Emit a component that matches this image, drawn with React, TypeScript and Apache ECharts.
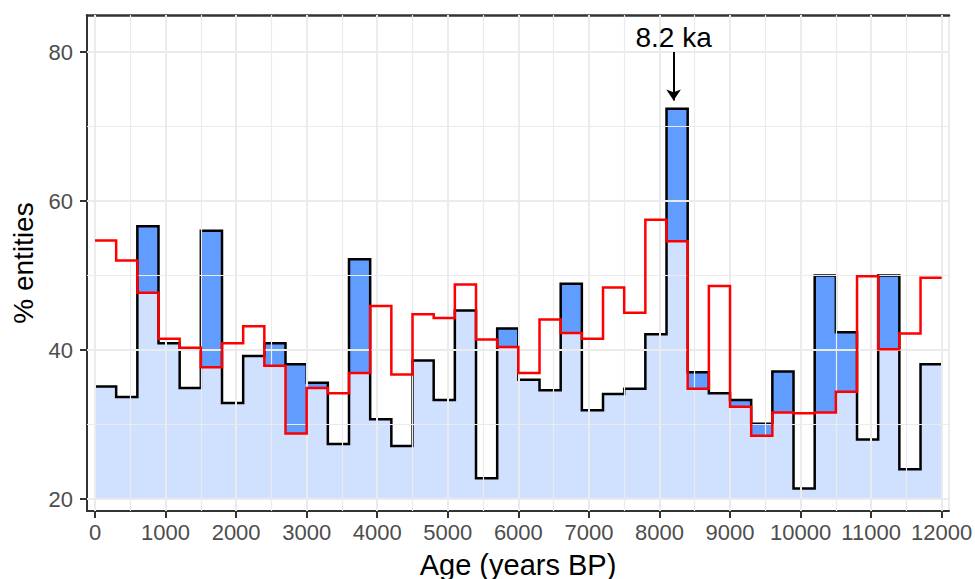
import React, { useEffect, useRef } from "react";
import * as echarts from "echarts";

// ---- data ----
const binWidth = 300;
const binStart = [
  0, 300, 600, 900, 1200, 1500, 1800, 2100, 2400, 2700,
  3000, 3300, 3600, 3900, 4200, 4500, 4800, 5100, 5400, 5700,
  6000, 6300, 6600, 6900, 7200, 7500, 7800, 8100, 8400, 8700,
  9000, 9300, 9600, 9900, 10200, 10500, 10800, 11100, 11400, 11700,
];
const blackPct = [
  35.1, 33.7, 56.6, 40.9, 34.9, 56.0, 32.9, 39.2, 40.9, 38.1,
  35.6, 27.4, 52.2, 30.7, 27.1, 38.6, 33.3, 45.3, 22.8, 42.9,
  36.0, 34.6, 48.9, 31.9, 34.1, 34.8, 42.1, 72.4, 37.0, 34.2,
  33.3, 30.1, 37.1, 21.4, 50.0, 42.4, 28.0, 50.0, 24.0, 38.1,
];
const redPct = [
  54.7, 52.0, 47.7, 41.5, 40.3, 37.7, 40.9, 43.2, 37.9, 28.8,
  34.9, 34.2, 36.9, 45.9, 36.7, 44.8, 44.3, 48.8, 41.4, 40.4,
  36.9, 44.1, 42.3, 41.5, 48.4, 45.0, 57.5, 54.6, 34.8, 48.6,
  32.4, 28.5, 31.6, 31.5, 31.6, 34.4, 49.9, 40.1, 42.2, 49.7,
];
const xTickValues = [0, 1000, 2000, 3000, 4000, 5000, 6000, 7000, 8000, 9000, 10000, 11000, 12000];
const xMinorGrid = [500, 1500, 2500, 3500, 4500, 5500, 6500, 7500, 8500, 9500, 10500, 11500];
const yTickValues = [20, 40, 60, 80];
const yMinorGrid = [30, 50, 70];
const fillBase = 20;
const eventX = 8200;
const eventLabel = "8.2 ka";
const eventFrom = 80;
const eventTo = 73.5;

const xMin = -113.4;
const xMax = 12103.5;
const yMin = 18.39;
const yMax = 84.97;

const FONT = "'Liberation Sans', Arial, Helvetica, sans-serif";

function stepData(values: number[]) {
  const d = binStart.map((x, i) => [x, values[i]]);
  const last = binStart.length - 1;
  d.push([binStart[last] + binWidth, values[last]]);
  return d;
}

export default function App() {
  const ref = useRef<HTMLDivElement>(null);
  useEffect(() => {
    document.body.style.margin = "0";
    if (!ref.current) return;
    const chart = echarts.init(ref.current, undefined, { renderer: "svg" });

    const darkBins = binStart
      .map((x, i) => [x, x + binWidth, redPct[i], blackPct[i]])
      .filter((d) => d[3] > d[2]);

    const gridLineData: any[] = [
      ...xTickValues.map((v) => ({ xAxis: v, lineStyle: { width: 2 } })),
      ...xMinorGrid.map((v) => ({ xAxis: v, lineStyle: { width: 1.2 } })),
      ...yTickValues.map((v) => ({ yAxis: v, lineStyle: { width: 2 } })),
      ...yMinorGrid.map((v) => ({ yAxis: v, lineStyle: { width: 1.2 } })),
    ];

    const option: any = {
      animation: false,
      backgroundColor: "#ffffff",
      textStyle: { fontFamily: FONT },
      grid: {
        left: 87,
        top: 15,
        right: 26,
        bottom: 68,
        containLabel: false,
        outerBoundsMode: "none",
      },
      xAxis: [
        {
          type: "value",
          min: xMin,
          max: xMax,
          position: "bottom",
          axisLine: { show: true, onZero: false, lineStyle: { color: "#333333", width: 2 } },
          axisTick: {
            show: true,
            customValues: xTickValues,
            length: 7,
            lineStyle: { color: "#333333", width: 2 },
          },
          axisLabel: {
            show: true,
            customValues: xTickValues,
            formatter: (v: number) => String(v),
            margin: 10,
            fontSize: 22,
            color: "#4d4d4d",
            fontFamily: FONT,
          },
          splitLine: { show: false },
          name: "Age (years BP)",
          nameLocation: "middle",
          nameGap: 39,
          nameTextStyle: { fontSize: 29, color: "#000000", fontFamily: FONT },
        },
        {
          type: "value",
          min: xMin,
          max: xMax,
          position: "top",
          axisLine: { show: true, onZero: false, lineStyle: { color: "#333333", width: 2.5 } },
          axisTick: { show: false },
          axisLabel: { show: false },
          splitLine: { show: false },
        },
      ],
      yAxis: [
        {
          type: "value",
          min: yMin,
          max: yMax,
          position: "left",
          axisLine: { show: true, onZero: false, lineStyle: { color: "#333333", width: 2 } },
          axisTick: {
            show: true,
            customValues: yTickValues,
            length: 7,
            lineStyle: { color: "#333333", width: 2 },
          },
          axisLabel: {
            show: true,
            customValues: yTickValues,
            formatter: (v: number) => String(v),
            margin: 14,
            fontSize: 22,
            color: "#4d4d4d",
            fontFamily: FONT,
          },
          splitLine: { show: false },
          name: "% entities",
          nameLocation: "middle",
          nameGap: 48,
          nameTextStyle: { fontSize: 28, color: "#000000", fontFamily: FONT },
        },
        {
          type: "value",
          min: yMin,
          max: yMax,
          position: "right",
          axisLine: { show: true, onZero: false, lineStyle: { color: "#e6e6e6", width: 1.5 } },
          axisTick: { show: false },
          axisLabel: { show: false },
          splitLine: { show: false },
        },
      ],
      series: [
        {
          type: "line",
          data: [],
          z: 1,
          silent: true,
          markLine: {
            silent: true,
            symbol: ["none", "none"],
            label: { show: false },
            lineStyle: { color: "#ebebeb", type: "solid" },
            data: gridLineData,
          },
        },
        {
          type: "custom",
          z: 2,
          silent: true,
          data: [[binStart[0], fillBase]],
          renderItem: (_params: any, api: any) => {
            const pts: number[][] = [];
            pts.push(api.coord([binStart[0], fillBase]));
            binStart.forEach((x0, i) => {
              const lo = Math.min(blackPct[i], redPct[i]);
              pts.push(api.coord([x0, lo]));
              pts.push(api.coord([x0 + binWidth, lo]));
            });
            const last = binStart.length - 1;
            pts.push(api.coord([binStart[last] + binWidth, fillBase]));
            return {
              type: "polygon",
              shape: { points: pts },
              style: { fill: "rgba(97,156,255,0.3)" },
            };
          },
        },
        {
          type: "custom",
          z: 3,
          silent: true,
          data: darkBins,
          encode: { x: [0, 1], y: [2, 3] },
          renderItem: (_params: any, api: any) => {
            const p0 = api.coord([api.value(0), api.value(2)]);
            const p1 = api.coord([api.value(1), api.value(3)]);
            return {
              type: "rect",
              shape: { x: p0[0], y: p1[1], width: p1[0] - p0[0], height: p0[1] - p1[1] },
              style: { fill: "#619CFF", stroke: "#619CFF", lineWidth: 0.6 },
            };
          },
        },
        {
          type: "line",
          z: 4,
          step: "end",
          data: stepData(blackPct),
          showSymbol: false,
          symbol: "none",
          silent: true,
          lineStyle: { color: "#000000", width: 2.5, join: "miter", cap: "butt" },
        },
        {
          type: "line",
          z: 5,
          step: "end",
          data: stepData(redPct),
          showSymbol: false,
          symbol: "none",
          silent: true,
          lineStyle: { color: "#ff0000", width: 2.5, join: "miter", cap: "butt" },
        },
        {
          type: "line",
          z: 6,
          data: [],
          silent: true,
          markLine: {
            silent: true,
            symbol: ["none", "arrow"],
            symbolSize: 11,
            label: { show: false },
            lineStyle: { color: "#000000", width: 2, type: "solid" },
            itemStyle: { color: "#000000" },
            data: [[{ coord: [eventX, eventFrom] }, { coord: [eventX, eventTo] }]],
          },
          markPoint: {
            silent: true,
            symbol: "circle",
            symbolSize: 0,
            data: [{ coord: [eventX, eventFrom], value: eventLabel }],
            label: {
              show: true,
              position: "top",
              distance: 1,
              formatter: eventLabel,
              fontSize: 28,
              color: "#000000",
              fontFamily: FONT,
            },
          },
        },
      ],
    };
    chart.setOption(option);
    return () => chart.dispose();
  }, []);
  return <div ref={ref} style={{ width: 975, height: 579 }} />;
}
